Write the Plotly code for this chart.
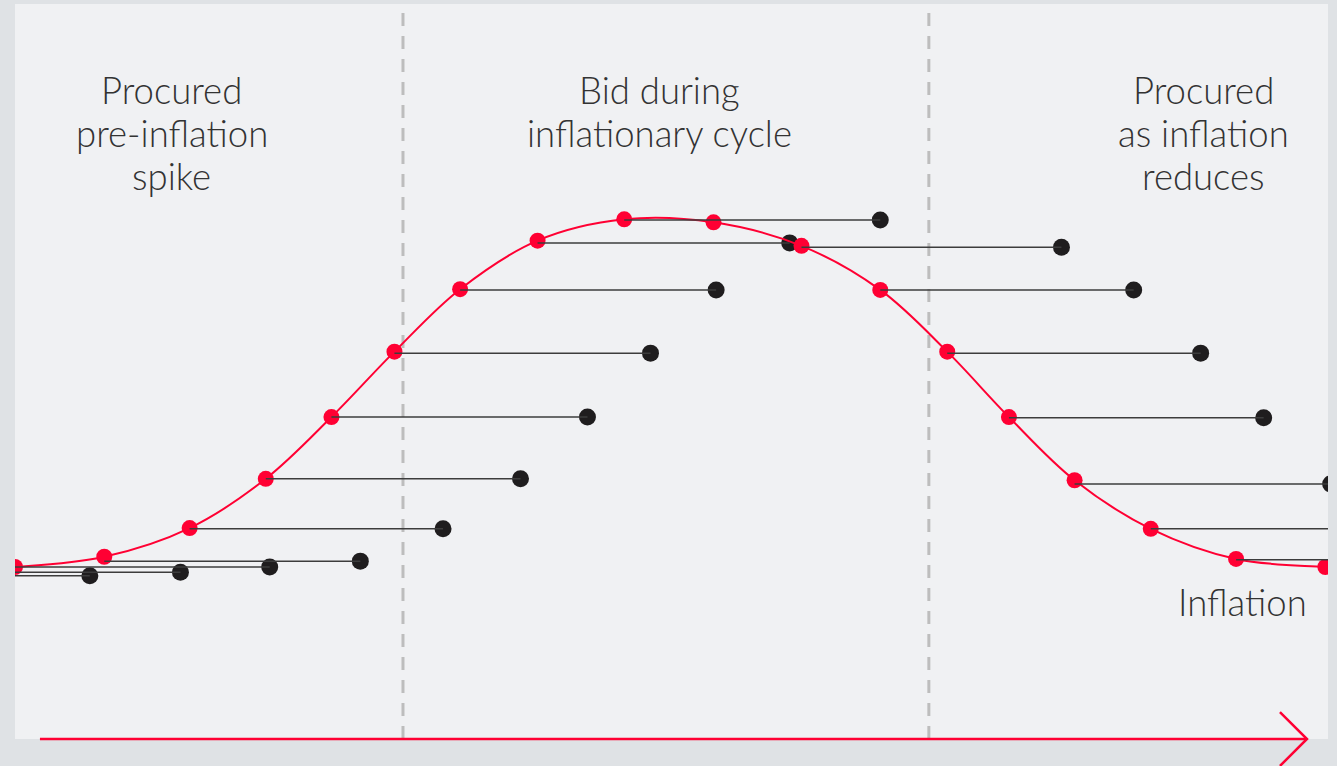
import plotly.graph_objects as go

# Inflation curve: time (0-100 across the window) and inflation index
curve_t = [-13.7, -6.9, 0.0, 6.8, 13.3, 19.1, 24.1, 28.9, 33.9, 39.8, 46.4,
           53.2, 59.9, 65.9, 71.0, 75.7, 80.7, 86.5, 93.0, 99.8, 106.6, 113.5]
curve_v = [22.6, 23.0, 23.4, 24.8, 28.7, 35.4, 43.8, 52.7, 61.2, 67.8, 70.7,
           70.3, 67.1, 61.1, 52.7, 43.8, 35.2, 28.6, 24.5, 23.4, 23.0, 22.6]

# Projects: bid point on the curve, held price level, delivery point
bid_t = [-13.7, -6.9, 0.0, 6.8, 13.3, 19.1, 24.1, 28.9, 33.9, 39.8, 46.4,
         59.9, 65.9, 71.0, 75.7, 80.7, 86.5, 93.0]
held_v = [22.2, 22.7, 23.4, 24.2, 28.6, 35.4, 43.8, 52.5, 61.1, 67.5, 70.6,
          66.9, 61.1, 52.5, 43.7, 34.7, 28.6, 24.4]
delivery_t = [5.7, 12.6, 19.4, 26.3, 32.6, 38.5, 43.6, 48.4, 53.4, 59.0, 65.9,
              79.7, 85.2, 90.3, 95.1, 100.2, 105.9, 112.5]

# Phase boundaries and labels
phase_breaks = [29.55, 69.6]
phase_labels = [["Procured", "pre-inflation", "spike"],
                ["Bid during", "inflationary cycle"],
                ["Procured", "as inflation", "reduces"]]
phase_label_t = [11.95, 49.05, 90.5]
phase_label_top = 88.3     # level of the first text line
label_line_step = 5.85     # spacing between text lines

RED = "#ff0033"
DARK = "#1f1d1e"
LINE = "#3c3c3c"
TEXT = "#333333"
FONT = dict(family="'Lato Light', Lato, 'Open Sans', sans-serif", size=36.5,
            color=TEXT, weight=300)

fig = go.Figure()

# delivery markers
fig.add_trace(go.Scatter(
    x=delivery_t, y=held_v, mode="markers",
    marker=dict(size=17, color=DARK), hoverinfo="skip", showlegend=False))

# inflation curve
fig.add_trace(go.Scatter(
    x=curve_t, y=curve_v, mode="lines",
    line=dict(color=RED, width=2, shape="spline", smoothing=1.0),
    hoverinfo="skip", showlegend=False))

# bid markers on the curve (the 53.2 point has no project attached)
fig.add_trace(go.Scatter(
    x=curve_t, y=curve_v, mode="markers",
    marker=dict(size=16, color=RED), hoverinfo="skip", showlegend=False))

# held-price lines from bid to delivery
seg_x, seg_y = [], []
for t0, v, t1 in zip(bid_t, held_v, delivery_t):
    seg_x += [t0, t1, None]
    seg_y += [v, v, None]
fig.add_trace(go.Scatter(
    x=seg_x, y=seg_y, mode="lines",
    line=dict(color=LINE, width=1.5), hoverinfo="skip", showlegend=False))

shapes = []
for tb in phase_breaks:
    shapes.append(dict(type="line", xref="x", yref="paper", x0=tb, x1=tb, y0=0, y1=1,
                       line=dict(color="#bdbdbd", width=3, dash="13px,10px"),
                       layer="below"))

# time arrow along the bottom edge
shapes.append(dict(type="line", xref="paper", yref="paper", x0=0.019, x1=0.984, y0=0, y1=0,
                   line=dict(color=RED, width=2.5)))
shapes.append(dict(type="path", xref="paper", yref="paper",
                   path="M 0.9634 0.0367 L 0.9840 0 L 0.9634 -0.0367",
                   line=dict(color=RED, width=2.5)))

annotations = []
for lines, tx in zip(phase_labels, phase_label_t):
    for i, txt in enumerate(lines):
        annotations.append(dict(x=tx, y=phase_label_top - i * label_line_step,
                                xref="x", yref="y", text=txt, showarrow=False,
                                xanchor="center", yanchor="middle", font=FONT))
annotations.append(dict(x=93.45, y=18.6, xref="x", yref="y", text="Inflation",
                        showarrow=False, xanchor="center", yanchor="middle", font=FONT))

fig.update_layout(
    width=1337, height=766,
    margin=dict(l=15, r=9, t=4, b=27),
    paper_bgcolor="#dfe2e5",
    plot_bgcolor="#f0f1f3",
    shapes=shapes,
    annotations=annotations,
    xaxis=dict(range=[0, 100], showgrid=False, zeroline=False, showticklabels=False,
               showline=False, ticks="", fixedrange=True),
    yaxis=dict(range=[0, 100], showgrid=False, zeroline=False, showticklabels=False,
               showline=False, ticks="", fixedrange=True),
)

fig.write_html("out.html", config={"displayModeBar": False})
